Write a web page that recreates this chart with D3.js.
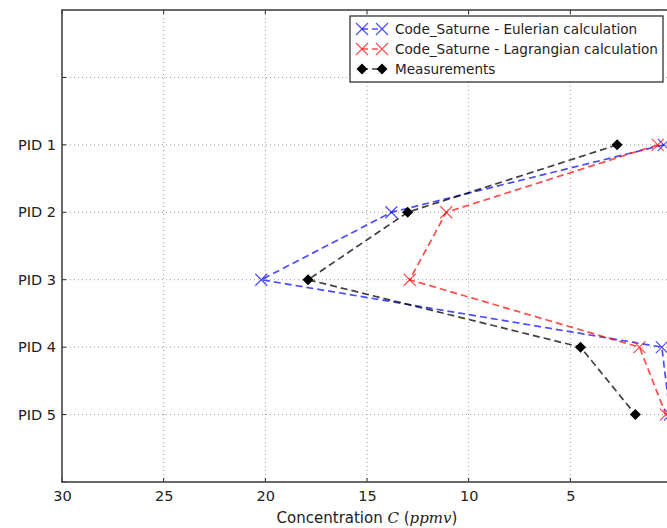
<!DOCTYPE html>
<html>
  <head>
    <title>PID concentration</title>
    <script src="https://cdn.jsdelivr.net/npm/d3@7/dist/d3.min.js"></script>
    <style>
      body { margin: 0; background: #fff; }
      text { font-family: 'DejaVu Sans', sans-serif; }
    </style>
  </head>
  <body>
    <svg width="667" height="528" id="mainsvg"></svg>
    <script>
      const svg = d3.select('#mainsvg');
      // axes box runs a bit past the right edge of the picture, like the reference
      const box = {left: 62, top: 10, right: 672, bottom: 482};

      const pids = ['PID 1', 'PID 2', 'PID 3', 'PID 4', 'PID 5'];
      const eulerian = [0.4, 13.8, 20.2, 0.5, 0.1];
      const lagrangian = [0.7, 11.1, 12.9, 1.6, 0.3];
      const measurements = [2.7, 13.0, 17.9, 4.5, 1.8];
      const xTicks = [30, 25, 20, 15, 10, 5, 0];
      const yTicks = [0, 1, 2, 3, 4, 5, 6];

      const series = [
        {name: 'Code_Saturne - Eulerian calculation', values: eulerian, color: 'rgba(0,0,255,0.7)', marker: 'x'},
        {name: 'Code_Saturne - Lagrangian calculation', values: lagrangian, color: 'rgba(255,0,0,0.7)', marker: 'x'},
        {name: 'Measurements', values: measurements, color: 'rgba(0,0,0,0.75)', marker: 'D'}
      ];

      const xScale = d3.scaleLinear().domain([30, 0]).range([box.left, box.right]);
      const yScale = d3.scaleLinear().domain([-1, 6]).range([box.top, box.bottom]);

      const g = svg.append('g');

      // grid
      g.append('g').selectAll('line.vg').data(xTicks.filter(d => d !== 30 && d !== 0))
        .join('line')
        .attr('x1', d => xScale(d)).attr('x2', d => xScale(d))
        .attr('y1', box.top).attr('y2', box.bottom)
        .attr('stroke', '#999').attr('stroke-width', 1).attr('stroke-dasharray', '1,3');
      g.append('g').selectAll('line.hg').data(yTicks.filter(d => d !== 6))
        .join('line')
        .attr('y1', d => yScale(d)).attr('y2', d => yScale(d))
        .attr('x1', box.left).attr('x2', box.right)
        .attr('stroke', '#999').attr('stroke-width', 1).attr('stroke-dasharray', '1,3');

      // axes
      const xAxis = d3.axisBottom(xScale).tickValues(xTicks).tickSize(0).tickPadding(9);
      const xAxisGroup = g.append('g').attr('transform', `translate(0, ${box.bottom})`).call(xAxis);
      xAxisGroup.selectAll('.domain').remove();
      xAxisGroup.selectAll('text').attr('font-size', 14.5).attr('fill', '#222');

      const yAxis = d3.axisLeft(yScale).tickValues(yTicks)
        .tickFormat(d => (d >= 1 && d <= 5) ? pids[d - 1] : '')
        .tickSize(0).tickPadding(6);
      const yAxisGroup = g.append('g').attr('transform', `translate(${box.left}, 0)`).call(yAxis);
      yAxisGroup.selectAll('.domain').remove();
      yAxisGroup.selectAll('text').attr('font-size', 14.5).attr('fill', '#222');

      // inward tick marks
      xTicks.forEach(d => {
        g.append('line').attr('x1', xScale(d)).attr('x2', xScale(d))
          .attr('y1', box.bottom).attr('y2', box.bottom - 4).attr('stroke', '#222');
        g.append('line').attr('x1', xScale(d)).attr('x2', xScale(d))
          .attr('y1', box.top).attr('y2', box.top + 4).attr('stroke', '#222');
      });
      yTicks.forEach(d => {
        g.append('line').attr('y1', yScale(d)).attr('y2', yScale(d))
          .attr('x1', box.left).attr('x2', box.left + 4).attr('stroke', '#222');
      });

      g.append('rect')
        .attr('x', box.left).attr('y', box.top)
        .attr('width', box.right - box.left).attr('height', box.bottom - box.top)
        .attr('fill', 'none').attr('stroke', '#444').attr('stroke-width', 1.6);

      g.append('text')
        .attr('x', (box.left + box.right) / 2).attr('y', 523)
        .attr('text-anchor', 'middle').attr('font-size', 15).attr('fill', '#222')
        .html('Concentration <tspan font-family="DejaVu Serif, serif" font-style="italic">C</tspan> (<tspan font-family="DejaVu Serif, serif" font-style="italic">ppmv</tspan>)');

      const drawMarker = function(sel, s, x, y) {
        if (s.marker === 'x') {
          const r = 6;
          sel.append('path')
            .attr('d', `M${x - r},${y - r}L${x + r},${y + r}M${x - r},${y + r}L${x + r},${y - r}`)
            .attr('stroke', s.color).attr('stroke-width', 1.2).attr('fill', 'none');
        } else {
          const r = 5.5;
          sel.append('path')
            .attr('d', `M${x},${y - r}L${x + r},${y}L${x},${y + r}L${x - r},${y}Z`)
            .attr('fill', '#000');
        }
      };

      const line = d3.line().x(d => xScale(d)).y((d, i) => yScale(i + 1));
      series.forEach(s => {
        g.append('path').datum(s.values)
          .attr('d', line)
          .attr('fill', 'none').attr('stroke', s.color)
          .attr('stroke-width', 1.7).attr('stroke-dasharray', '7,4');
        s.values.forEach((v, i) => drawMarker(g, s, xScale(v), yScale(i + 1)));
      });

      // legend
      const legend = g.append('g');
      legend.append('rect')
        .attr('x', 350).attr('y', 16).attr('width', 313).attr('height', 66)
        .attr('fill', '#fff').attr('stroke', '#222').attr('stroke-width', 1.2);
      series.forEach((s, i) => {
        const y = 29 + i * 20;
        legend.append('line').attr('x1', 362).attr('x2', 382).attr('y1', y).attr('y2', y)
          .attr('stroke', s.color).attr('stroke-width', 1.5).attr('stroke-dasharray', '6,4');
        drawMarker(legend, s, 362, y);
        drawMarker(legend, s, 382, y);
        legend.append('text').attr('x', 395).attr('y', y + 5)
          .attr('font-size', 13.6).attr('fill', '#222').text(s.name);
      });
    </script>
  </body>
</html>
